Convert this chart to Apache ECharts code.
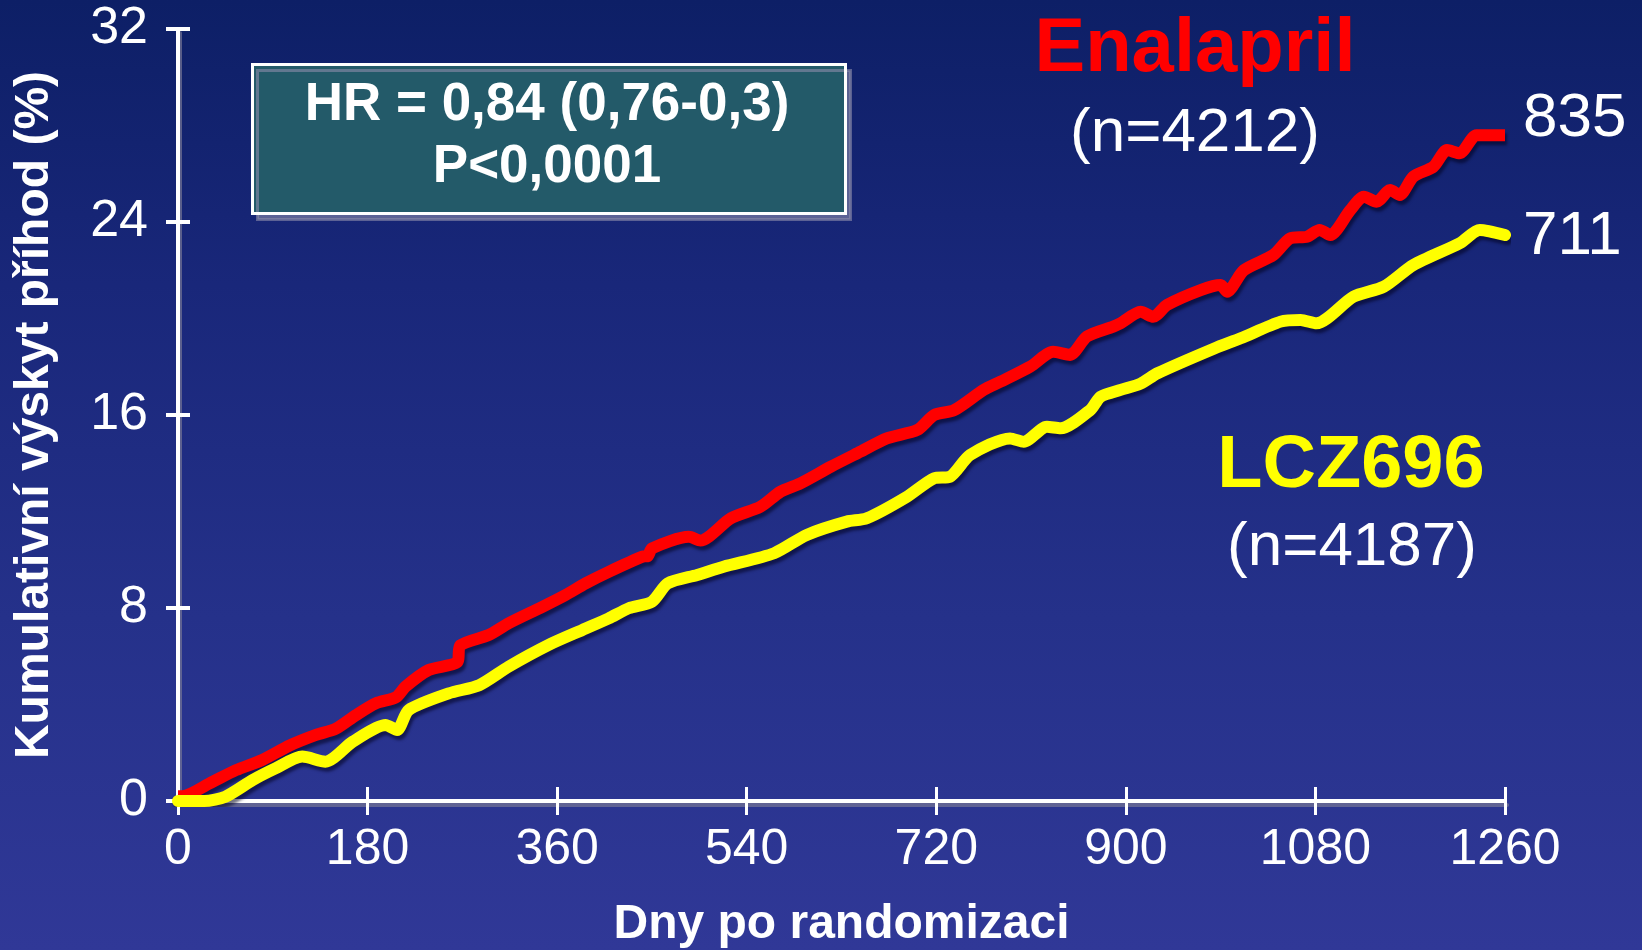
<!DOCTYPE html>
<html>
<head>
<meta charset="utf-8">
<script src="https://cdn.jsdelivr.net/npm/echarts@6/dist/echarts.min.js"></script>
<style>
html,body{margin:0;padding:0;background:#1b2878;}
#chart{width:1642px;height:950px;}
</style>
</head>
<body>
<div id="chart"></div>
<script>
// ---- data ----
const xTicks = [0, 180, 360, 540, 720, 900, 1080, 1260];
const yTicks = [0, 8, 16, 24, 32];

const enalaprilDays = [0,4,30,55,80,106,131,150,169,188,207,216,238,265,268,295,314,346,368,387,409,441,446,450,485,496,525,553,572,591,620,648,673,702,718,737,765,781,809,831,847,863,888,895,914,926,939,971,990,996,1012,1040,1056,1072,1084,1094,1113,1126,1138,1151,1160,1173,1192,1205,1217,1233,1260];
const enalaprilPct  = [0.2,0.2,0.73,1.28,1.7,2.3,2.74,3.0,3.56,4.05,4.3,4.74,5.43,5.75,6.45,6.88,7.37,8.05,8.54,9.02,9.5,10.13,10.15,10.47,10.95,10.8,11.72,12.2,12.82,13.17,13.86,14.48,15.03,15.38,16.0,16.2,17.04,17.38,18.0,18.62,18.49,19.25,19.66,19.8,20.28,20.07,20.56,21.18,21.39,21.11,22.0,22.63,23.32,23.39,23.67,23.46,24.49,25.05,24.84,25.33,25.12,25.88,26.29,26.98,26.85,27.6,27.6];

const lczDays = [0,25,45,71,93,118,140,166,197,208,219,257,286,314,352,384,409,428,450,465,493,518,566,597,635,654,692,718,733,752,790,803,825,838,866,876,895,914,930,984,1009,1047,1066,1081,1116,1145,1173,1217,1236,1260];
const lczPct  = [0,0,0.18,0.87,1.36,1.84,1.63,2.46,3.15,2.94,3.77,4.46,4.8,5.57,6.47,7.09,7.57,7.99,8.26,9.02,9.37,9.71,10.27,11.03,11.58,11.72,12.61,13.38,13.44,14.34,15.03,14.89,15.51,15.45,16.2,16.76,17.04,17.3,17.73,18.76,19.18,19.87,19.94,19.8,20.9,21.32,22.22,23.12,23.67,23.46];

const seriesNames = ['Enalapril', 'LCZ696'];
const seriesN = ['(n=4212)', '(n=4187)'];
const eventCounts = ['835', '711'];
const hrText = ['HR = 0,84 (0,76-0,3)', 'P<0,0001'];
const yTitle = 'Kumulativní výskyt příhod (%)';
const xTitle = 'Dny po randomizaci';

// ---- chart ----
const FONT = "'Liberation Sans', Arial, Helvetica, sans-serif";
const pairs = (a, b) => a.map((d, i) => [d, b[i]]);
const chart = echarts.init(document.getElementById('chart'), null, {renderer: 'canvas'});

const axisShadowLine = {color: '#ffffff', width: 4, shadowColor: 'rgba(120,120,150,0.7)', shadowOffsetX: 2, shadowOffsetY: 4};

const option = {
  backgroundColor: {
    type: 'linear', x: 0, y: 0, x2: 0, y2: 1,
    colorStops: [
      {offset: 0, color: '#0d1f66'},
      {offset: 0.3, color: '#19277a'},
      {offset: 0.65, color: '#25318a'},
      {offset: 1, color: '#303897'}
    ]
  },
  animation: false,
  grid: {left: 178, right: 137, top: 29, bottom: 149, containLabel: false, outerBoundsMode: 'none'},
  xAxis: [{
    type: 'value', min: 0, max: 1260, interval: 180,
    name: xTitle, nameLocation: 'middle', nameGap: 100,
    nameTextStyle: {color: '#fff', fontSize: 48, fontWeight: 'bold', fontFamily: FONT},
    axisLine: {show: true, onZero: false, lineStyle: axisShadowLine},
    axisTick: {show: true, inside: false, length: 14, lineStyle: {color: '#fff', width: 3}},
    axisLabel: {color: '#fff', fontSize: 50, fontFamily: FONT, margin: 24,
      formatter: v => xTicks.includes(v) ? String(v) : ''},
    splitLine: {show: false}
  }, {
    type: 'value', min: 0, max: 1260, interval: 180, position: 'bottom',
    axisLine: {show: false},
    axisTick: {show: true, inside: true, length: 14, lineStyle: {color: '#fff', width: 3}},
    axisLabel: {show: false}, splitLine: {show: false}
  }],
  yAxis: [{
    type: 'value', min: 0, max: 32, interval: 8,
    name: yTitle, nameLocation: 'middle', nameGap: 119, nameRotate: 90,
    nameTextStyle: {color: '#fff', fontSize: 48, fontWeight: 'bold', fontFamily: FONT},
    axisLine: {show: true, onZero: false, lineStyle: axisShadowLine},
    axisTick: {show: true, inside: false, length: 12, lineStyle: {color: '#fff', width: 4}},
    axisLabel: {color: '#fff', fontSize: 52, fontFamily: FONT, margin: 30,
      formatter: v => yTicks.includes(v) ? String(v) : ''},
    splitLine: {show: false}
  }, {
    type: 'value', min: 0, max: 32, interval: 8, position: 'left',
    axisLine: {show: false},
    axisTick: {show: true, inside: true, length: 12, lineStyle: {color: '#fff', width: 4}},
    axisLabel: {show: false}, splitLine: {show: false}
  }],
  series: [{
    name: seriesNames[0], type: 'line', showSymbol: false, symbol: 'none', smooth: 0.25,
    data: pairs(enalaprilDays, enalaprilPct),
    lineStyle: {color: '#ff0000', width: 12, cap: 'butt', join: 'round',
      shadowColor: 'rgba(0,0,30,0.55)', shadowBlur: 3, shadowOffsetX: 2, shadowOffsetY: 4},
    z: 3
  }, {
    name: seriesNames[1], type: 'line', showSymbol: false, symbol: 'none', smooth: 0.25,
    data: pairs(lczDays, lczPct),
    lineStyle: {color: '#ffff00', width: 12, cap: 'round', join: 'round',
      shadowColor: 'rgba(0,0,30,0.55)', shadowBlur: 3, shadowOffsetX: 2, shadowOffsetY: 4},
    z: 3
  }],
  graphic: [
    {type: 'rect', left: 251, top: 63, shape: {width: 593, height: 149},
      style: {fill: '#235a69', stroke: '#ffffff', lineWidth: 3,
        shadowColor: 'rgba(140,140,170,0.6)', shadowOffsetX: 5, shadowOffsetY: 6, shadowBlur: 0}},
    {type: 'text', x: 547, y: 105, style: {text: hrText[0], fill: '#fff', font: 'bold 53px ' + FONT, align: 'center', verticalAlign: 'middle'}},
    {type: 'text', x: 547, y: 167, style: {text: hrText[1], fill: '#fff', font: 'bold 53px ' + FONT, align: 'center', verticalAlign: 'middle'}},
    {type: 'text', x: 1195, y: 50, style: {text: seriesNames[0], fill: '#ff0000', font: 'bold 76px ' + FONT, align: 'center', verticalAlign: 'middle'}},
    {type: 'text', x: 1195, y: 134, style: {text: seriesN[0], fill: '#fff', font: '62px ' + FONT, align: 'center', verticalAlign: 'middle'}},
    {type: 'text', x: 1351, y: 467, style: {text: seriesNames[1], fill: '#ffff00', font: 'bold 74px ' + FONT, align: 'center', verticalAlign: 'middle'}},
    {type: 'text', x: 1352, y: 548, style: {text: seriesN[1], fill: '#fff', font: '62px ' + FONT, align: 'center', verticalAlign: 'middle'}},
    {type: 'text', x: 1523, y: 119, style: {text: eventCounts[0], fill: '#fff', font: '62px ' + FONT, align: 'left', verticalAlign: 'middle'}},
    {type: 'text', x: 1523, y: 237, style: {text: eventCounts[1], fill: '#fff', font: '62px ' + FONT, align: 'left', verticalAlign: 'middle'}}
  ]
};
chart.setOption(option);
</script>
</body>
</html>
